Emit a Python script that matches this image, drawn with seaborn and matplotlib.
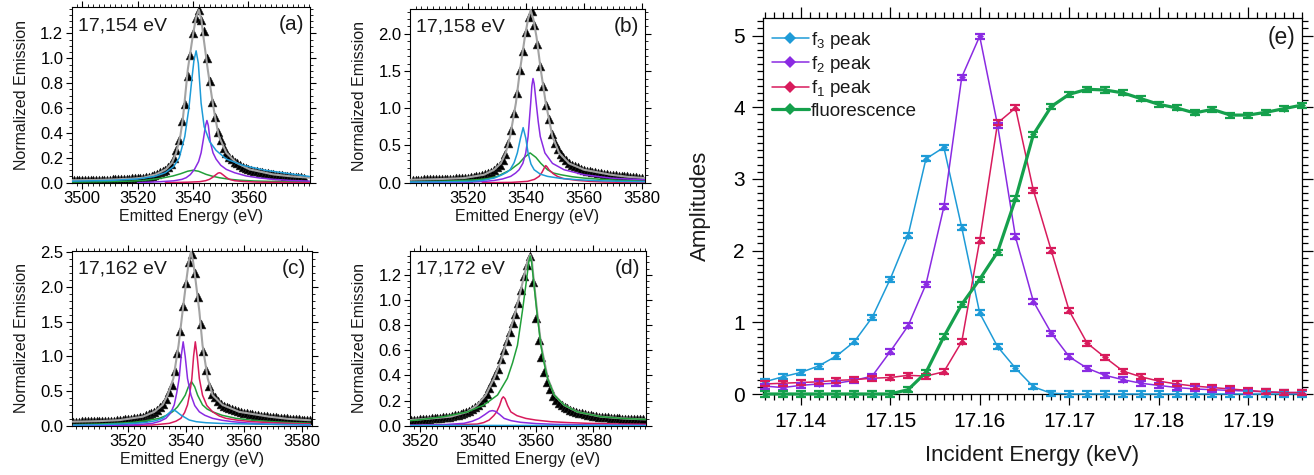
import numpy as np
import matplotlib
matplotlib.use('Agg')
import matplotlib.pyplot as plt
import seaborn as sns
from matplotlib.ticker import MultipleLocator, FormatStrFormatter, FixedLocator

# ------------------------------------------------------------------ data
# panel (a) 17,154 eV
a_tri_x = list(range(3497, 3581))
a_tri_y = [0.02, 0.02, 0.021, 0.021, 0.021, 0.022, 0.022, 0.022, 0.023, 0.023, 0.024, 0.024, 0.025, 0.025,
           0.026, 0.027, 0.028, 0.029, 0.03, 0.031, 0.033, 0.034, 0.036, 0.038,
           0.039, 0.04, 0.043, 0.047, 0.052, 0.06, 0.072, 0.082, 0.092, 0.105,
           0.125, 0.15, 0.2, 0.26, 0.34, 0.5, 0.63, 0.86, 1.03, 1.2,
           1.32, 1.39, 1.31, 1.22, 1.0, 0.82, 0.65, 0.53, 0.41, 0.34,
           0.28, 0.24, 0.21, 0.19, 0.17, 0.155, 0.14, 0.13, 0.12, 0.11,
           0.103, 0.097, 0.092, 0.087, 0.082, 0.078, 0.074, 0.07, 0.066, 0.063,
           0.06, 0.058, 0.055, 0.053, 0.051, 0.049, 0.047, 0.045, 0.043, 0.041]
a_fit_x = [3496, 3505, 3512, 3518, 3522, 3526.6, 3530.2, 3532.4, 3533.9, 3535.4, 3536.3, 3536.9, 3538.1, 3539.9,
           3541, 3542.1, 3543, 3543.7, 3545.3, 3547.1, 3548.1, 3549.3, 3552, 3555.6, 3560.4, 3568.8, 3575, 3582]
a_fit_y = [0.02, 0.022, 0.027, 0.033, 0.04, 0.067, 0.107, 0.16, 0.24, 0.375, 0.51, 0.64, 0.91, 1.18,
           1.32, 1.39, 1.31, 1.18, 0.91, 0.64, 0.51, 0.375, 0.24, 0.16, 0.107, 0.067, 0.052, 0.04]
a_f3_x = [3496, 3510, 3520, 3526, 3530, 3533, 3535, 3537, 3538.5, 3539.5, 3540.3, 3541.1, 3541.9, 3542.9,
          3544, 3546, 3548.3, 3552, 3558, 3566, 3582]
a_f3_y = [0.012, 0.018, 0.03, 0.05, 0.08, 0.13, 0.2, 0.37, 0.6, 0.82, 0.98, 1.06, 0.96, 0.64,
          0.45, 0.33, 0.26, 0.19, 0.14, 0.1, 0.05]
a_f2_x = [3520, 3528, 3533, 3536, 3537.5, 3539, 3540.5, 3542, 3542.9, 3543.8, 3544.5, 3545, 3545.5, 3546.2,
          3547.2, 3548.3, 3550, 3552, 3555, 3559.2, 3564, 3569, 3575, 3582]
a_f2_y = [0.0, 0.008, 0.015, 0.027, 0.04, 0.065, 0.107, 0.17, 0.24, 0.36, 0.46, 0.5, 0.46, 0.33,
          0.24, 0.19, 0.14, 0.107, 0.08, 0.054, 0.038, 0.027, 0.018, 0.013]
a_f1_x = [3530, 3538, 3542.3, 3544.5, 3545.9, 3547, 3548, 3549, 3549.5, 3550, 3551, 3552, 3553.1, 3555,
          3558, 3563, 3570, 3582]
a_f1_y = [0.0, 0.004, 0.008, 0.016, 0.027, 0.042, 0.06, 0.077, 0.08, 0.077, 0.06, 0.042, 0.027, 0.016,
          0.01, 0.005, 0.003, 0.001]
a_fl_x = [3496, 3505, 3512, 3518, 3522, 3525.4, 3529, 3532.7, 3535.5, 3538, 3539.9, 3542, 3544.7, 3547,
          3549.5, 3553, 3556.8, 3562, 3569, 3576, 3582]
a_fl_y = [0.005, 0.007, 0.01, 0.013, 0.018, 0.027, 0.038, 0.054, 0.072, 0.092, 0.1, 0.092, 0.067, 0.052,
          0.04, 0.028, 0.02, 0.014, 0.01, 0.007, 0.006]

# panel (b) 17,158 eV
b_tri_x = list(range(3501, 3581))
b_tri_y = [0.04, 0.041, 0.041, 0.042, 0.043, 0.044, 0.045, 0.046, 0.047, 0.048,
           0.049, 0.05, 0.052, 0.054, 0.056, 0.058, 0.06, 0.062, 0.064, 0.067,
           0.072, 0.078, 0.085, 0.093, 0.102, 0.115, 0.13, 0.15, 0.175, 0.21,
           0.24, 0.31, 0.39, 0.53, 0.71, 0.94, 1.2, 1.51, 1.77, 2.03,
           2.22, 2.31, 2.12, 1.87, 1.57, 1.3, 1.05, 0.85, 0.66, 0.54,
           0.45, 0.38, 0.34, 0.3, 0.26, 0.24, 0.22, 0.205, 0.19, 0.176,
           0.163, 0.153, 0.145, 0.138, 0.131, 0.125, 0.119, 0.114, 0.109, 0.105,
           0.1, 0.096, 0.092, 0.088, 0.084, 0.08, 0.076, 0.072, 0.068, 0.064]
b_fit_x = [3500.3, 3510, 3518.7, 3525.6, 3529.1, 3531.4, 3533.1, 3534.6, 3536.6, 3538.0, 3539.7, 3540.8,
           3541.7, 3542.6, 3543.7, 3545.2, 3546.9, 3549.2, 3551.5, 3554.9, 3560.1, 3569.3, 3575, 3581]
b_fit_y = [0.04, 0.048, 0.062, 0.107, 0.174, 0.26, 0.4, 0.62, 1.07, 1.51, 1.96, 2.2,
           2.32, 2.2, 1.96, 1.51, 1.07, 0.62, 0.4, 0.26, 0.174, 0.107, 0.08, 0.062]
b_f3_x = [3500, 3510, 3516, 3521, 3525, 3529.1, 3531.5, 3533.5, 3534.6, 3536, 3537.1, 3538.2, 3539.1, 3540,
          3540.8, 3541.8, 3542.9, 3545, 3547.5, 3552, 3557.8, 3565, 3572.8, 3581]
b_f3_y = [0.008, 0.011, 0.014, 0.018, 0.03, 0.062, 0.1, 0.14, 0.174, 0.27, 0.4, 0.6, 0.74, 0.6,
          0.4, 0.25, 0.174, 0.115, 0.085, 0.058, 0.04, 0.027, 0.018, 0.013]
b_f2_x = [3500, 3510, 3521, 3526, 3529.1, 3532, 3534.8, 3536.5, 3537.7, 3539, 3540, 3540.8, 3541.7, 3542.1,
          3542.5, 3542.9, 3543.6, 3544.3, 3545, 3546.6, 3549.2, 3553.2, 3560.1, 3569.3, 3575, 3581]
b_f2_y = [0.002, 0.004, 0.009, 0.018, 0.03, 0.05, 0.085, 0.13, 0.174, 0.26, 0.4, 0.62, 1.07, 1.3,
          1.4, 1.33, 1.07, 0.82, 0.62, 0.4, 0.26, 0.174, 0.107, 0.062, 0.05, 0.04]
b_f1_x = [3525, 3535, 3540.6, 3543, 3544.6, 3545.6, 3546.4, 3546.9, 3547.4, 3548.0, 3549.5, 3550.9, 3553,
          3557.8, 3562, 3567, 3575, 3581]
b_f1_y = [0.0, 0.004, 0.018, 0.045, 0.085, 0.14, 0.2, 0.23, 0.21, 0.174, 0.12, 0.085, 0.055,
          0.031, 0.018, 0.009, 0.004, 0.002]
b_fl_x = [3500, 3509.5, 3516, 3523.3, 3527, 3530.2, 3532.5, 3534.8, 3536.3, 3537.7, 3539.5, 3541.5, 3543.5,
          3545.2, 3547.5, 3549.5, 3552.1, 3556, 3560.1, 3566, 3572.8, 3581]
b_fl_y = [0.012, 0.018, 0.026, 0.04, 0.055, 0.085, 0.13, 0.174, 0.22, 0.26, 0.34, 0.4, 0.34,
          0.26, 0.174, 0.13, 0.107, 0.08, 0.062, 0.045, 0.031, 0.022]

# panel (c) 17,162 eV
c_tri_x = list(range(3501, 3584))
c_tri_y = [0.058, 0.059, 0.06, 0.061, 0.062, 0.063, 0.064, 0.065, 0.066, 0.067,
           0.068, 0.07, 0.071, 0.073, 0.075, 0.078, 0.081, 0.086, 0.091, 0.097,
           0.102, 0.108, 0.115, 0.122, 0.13, 0.148, 0.165, 0.18, 0.2, 0.23,
           0.27, 0.31, 0.39, 0.49, 0.58, 0.79, 1.05, 1.37, 1.72, 2.06,
           2.36, 2.48, 2.2, 1.86, 1.47, 1.08, 0.81, 0.57, 0.46, 0.41,
           0.36, 0.32, 0.29, 0.27, 0.25, 0.235, 0.22, 0.205, 0.195, 0.186,
           0.178, 0.17, 0.163, 0.156, 0.15, 0.144, 0.139, 0.134, 0.13, 0.126,
           0.122, 0.118, 0.114, 0.11, 0.106, 0.102, 0.098, 0.094, 0.09, 0.086,
           0.083, 0.08, 0.078]
c_fit_x = [3500.7, 3510, 3516.9, 3525.0, 3529.0, 3531.9, 3533.6, 3535.6, 3537.4, 3538.8, 3540.2, 3541.0,
           3541.7, 3542.4, 3543.2, 3544.6, 3545.7, 3547.5, 3549.2, 3552.6, 3558.4, 3568.8, 3575, 3583]
c_fit_y = [0.058, 0.066, 0.08, 0.13, 0.2, 0.3, 0.44, 0.68, 1.16, 1.65, 2.13, 2.38,
           2.51, 2.38, 2.13, 1.65, 1.16, 0.68, 0.44, 0.3, 0.2, 0.13, 0.1, 0.078]
c_f3_x = [3501, 3510, 3516.9, 3522, 3526.1, 3529.5, 3531.9, 3533.5, 3534.8, 3535.6, 3536.5, 3538.2, 3541.1,
          3543.5, 3546.9, 3552, 3561.9, 3571, 3583]
c_f3_y = [0.008, 0.014, 0.024, 0.034, 0.048, 0.072, 0.106, 0.16, 0.21, 0.226, 0.21, 0.154, 0.082,
          0.058, 0.043, 0.033, 0.024, 0.018, 0.013]
c_f2_x = [3501, 3512, 3521.5, 3528.4, 3531, 3533, 3534.6, 3535.9, 3536.8, 3537.6, 3538.3, 3539, 3539.7,
          3540.5, 3541.7, 3543, 3544.6, 3546.5, 3549.2, 3552.5, 3556.1, 3561, 3567.6, 3575, 3583]
c_f2_y = [0.002, 0.005, 0.01, 0.034, 0.065, 0.106, 0.18, 0.3, 0.48, 0.68, 1.0, 1.21, 1.0,
          0.68, 0.44, 0.29, 0.2, 0.15, 0.106, 0.078, 0.058, 0.04, 0.024, 0.015, 0.01]
c_f1_x = [3501, 3515, 3528.4, 3534.2, 3536.5, 3538.2, 3539.5, 3540.5, 3541.3, 3542, 3542.6, 3543.2, 3543.9,
          3544.6, 3545.7, 3547.2, 3549.2, 3551.5, 3553.8, 3558, 3563, 3570, 3579.2, 3583]
c_f1_y = [0.001, 0.003, 0.01, 0.034, 0.065, 0.106, 0.19, 0.3, 0.47, 0.68, 1.0, 1.21, 0.98,
          0.68, 0.44, 0.29, 0.2, 0.14, 0.106, 0.078, 0.058, 0.042, 0.029, 0.026]
c_fl_x = [3501, 3510, 3516, 3521.5, 3526, 3530.7, 3533, 3535.3, 3537, 3538.5, 3539.7, 3540.8, 3541.9, 3543,
          3544, 3545.7, 3547.3, 3549.2, 3552.5, 3557.3, 3563, 3569.9, 3576, 3583]
c_fl_y = [0.015, 0.024, 0.034, 0.048, 0.07, 0.106, 0.145, 0.2, 0.27, 0.36, 0.44, 0.56, 0.635, 0.56,
          0.44, 0.3, 0.24, 0.2, 0.15, 0.106, 0.078, 0.058, 0.045, 0.036]

# panel (d) 17,172 eV
d_tri_x = list(range(3517, 3598))
d_tri_y = [0.045, 0.047, 0.048, 0.05, 0.052, 0.054, 0.056, 0.058, 0.06, 0.062,
           0.064, 0.066, 0.068, 0.071, 0.076, 0.082, 0.088, 0.094, 0.1, 0.107,
           0.12, 0.135, 0.15, 0.165, 0.19, 0.217, 0.25, 0.3, 0.35, 0.4,
           0.455, 0.53, 0.6, 0.67, 0.745, 0.82, 0.89, 0.98, 1.08, 1.19,
           1.28, 1.35, 1.14, 0.86, 0.68, 0.55, 0.43, 0.35, 0.29, 0.24,
           0.205, 0.18, 0.162, 0.148, 0.137, 0.127, 0.117, 0.11, 0.104, 0.098,
           0.093, 0.088, 0.084, 0.08, 0.076, 0.073, 0.07, 0.068, 0.066, 0.064,
           0.062, 0.06, 0.058, 0.057, 0.056, 0.055, 0.054, 0.053, 0.052, 0.051, 0.05]
d_fit_x = [3516.5, 3521.4, 3530.6, 3536.4, 3539.8, 3542.7, 3545.6, 3547.9, 3549.6, 3551.4, 3553.1, 3555.8,
           3557.2, 3558.1, 3558.7, 3559.3, 3560.5, 3561.9, 3564.2, 3566.5, 3569.8, 3574.4, 3582.5, 3590, 3598]
d_fit_y = [0.045, 0.053, 0.072, 0.11, 0.165, 0.244, 0.377, 0.51, 0.64, 0.775, 0.91, 1.17,
           1.31, 1.36, 1.31, 1.17, 0.91, 0.64, 0.377, 0.244, 0.165, 0.11, 0.072, 0.058, 0.05]
d_f3_x = [3516.5, 3540, 3560, 3580, 3598]
d_f3_y = [0.001, 0.002, 0.002, 0.002, 0.001]
d_f2_x = [3516.5, 3528, 3535.2, 3538, 3540.4, 3542.5, 3544, 3545, 3546, 3547.5, 3549.1, 3551.5, 3554.8,
          3560, 3566.4, 3580, 3598]
d_f2_y = [0.003, 0.008, 0.019, 0.035, 0.058, 0.09, 0.115, 0.12, 0.115, 0.09, 0.058, 0.04, 0.027,
          0.017, 0.011, 0.006, 0.003]
d_f1_x = [3516.5, 3530, 3539.8, 3542, 3543.9, 3545.5, 3546.5, 3547.5, 3548.3, 3548.8, 3549.4, 3550.3,
          3551.4, 3553.5, 3556.6, 3560, 3565.2, 3571, 3577.9, 3587, 3598]
d_f1_y = [0.002, 0.006, 0.013, 0.025, 0.045, 0.08, 0.11, 0.16, 0.215, 0.23, 0.215, 0.16,
          0.11, 0.08, 0.058, 0.045, 0.032, 0.025, 0.019, 0.014, 0.011]
d_fl_x = [3516.5, 3519, 3528.3, 3536.4, 3542.1, 3546.8, 3550.2, 3552, 3553.7, 3555.4, 3556.9, 3557.6,
          3558.1, 3558.6, 3559.2, 3560.4, 3561.8, 3562.9, 3564.1, 3566.4, 3569.8, 3574.4, 3582.5, 3590, 3598]
d_fl_y = [0.04, 0.045, 0.072, 0.11, 0.165, 0.244, 0.377, 0.5, 0.64, 0.91, 1.17, 1.3,
          1.35, 1.3, 1.17, 0.91, 0.64, 0.5, 0.377, 0.244, 0.165, 0.11, 0.072, 0.058, 0.05]

# panel (e) amplitudes vs incident energy (keV)
inc_energy = [17.136, 17.138, 17.140, 17.142, 17.144, 17.146, 17.148, 17.150, 17.152, 17.154, 17.156,
              17.158, 17.160, 17.162, 17.164, 17.166, 17.168, 17.170, 17.172, 17.174, 17.176, 17.178,
              17.180, 17.182, 17.184, 17.186, 17.188, 17.190, 17.192, 17.194, 17.196]
amp_f3 = [0.17, 0.24, 0.30, 0.39, 0.53, 0.73, 1.07, 1.60, 2.21, 3.28, 3.44, 2.32, 1.13, 0.66, 0.36, 0.10,
          0.01, 0.0, 0.0, 0.0, 0.0, 0.0, 0.0, 0.0, 0.0, 0.0, 0.0, 0.0, 0.0, 0.0, 0.0]
amp_f2 = [0.11, 0.09, 0.12, 0.14, 0.15, 0.19, 0.25, 0.59, 0.95, 1.53, 2.61, 4.42, 4.99, 3.75, 2.19, 1.29,
          0.85, 0.52, 0.36, 0.26, 0.20, 0.15, 0.12, 0.09, 0.07, 0.06, 0.05, 0.04, 0.03, 0.02, 0.02]
amp_f1 = [0.14, 0.15, 0.16, 0.17, 0.19, 0.20, 0.22, 0.23, 0.26, 0.25, 0.31, 0.73, 2.14, 3.78, 3.99, 2.84,
          2.00, 1.16, 0.71, 0.51, 0.32, 0.24, 0.18, 0.14, 0.11, 0.09, 0.07, 0.05, 0.03, 0.02, 0.02]
amp_fl = [0.0, 0.0, 0.0, 0.0, 0.0, 0.0, 0.0, 0.0, 0.06, 0.30, 0.80, 1.25, 1.60, 1.98, 2.72, 3.62,
          4.01, 4.18, 4.25, 4.24, 4.20, 4.12, 4.04, 3.99, 3.92, 3.97, 3.89, 3.89, 3.93, 3.98, 4.03]
amp_err = 0.035

panel_energies = ['17,154 eV', '17,158 eV', '17,162 eV', '17,172 eV']
panel_letters = ['(a)', '(b)', '(c)', '(d)']
legend_labels = [r'f$_3$ peak', r'f$_2$ peak', r'f$_1$ peak', 'fluorescence']

# ------------------------------------------------------------------ style
sns.set_theme(style='ticks')
plt.rcParams['font.family'] = ['Liberation Sans', 'DejaVu Sans']
plt.rcParams['mathtext.fontset'] = 'custom'
plt.rcParams['mathtext.rm'] = 'Liberation Sans'
plt.rcParams['mathtext.it'] = 'Liberation Sans:italic'
plt.rcParams['axes.edgecolor'] = 'black'
plt.rcParams['xtick.color'] = 'black'
plt.rcParams['ytick.color'] = 'black'
plt.rcParams['text.color'] = '#1a1a1a'
plt.rcParams['axes.labelcolor'] = '#1a1a1a'

C_F3 = '#1e9bd7'
C_F2 = '#8a2be2'
C_F1 = '#d81b5c'
C_FL = '#15a04c'
C_FL_SPEC = '#22a03a'
C_FIT = '#a3a3a3'

fig = plt.figure(figsize=(13.14, 4.75), dpi=100)
W, H = 1314.0, 475.0


def rect(l, t, r, b):
    return [l / W, 1 - b / H, (r - l) / W, (b - t) / H]


ax_a = fig.add_axes(rect(71.7, 7.3, 310, 182.7))
ax_b = fig.add_axes(rect(410, 9.3, 645, 182.7))
ax_c = fig.add_axes(rect(71.7, 251, 311.7, 425.7))
ax_d = fig.add_axes(rect(410, 251, 646, 425.7))
ax_e = fig.add_axes(rect(763, 18.3, 1302, 394))


def spectrum(ax, tri_x, tri_y, fit_x, fit_y, comps, xlim, ylim, xticks, yticks, ymin, elabel, letter):
    sns.scatterplot(x=tri_x, y=tri_y, marker='^', s=40, color='black', edgecolor='#2a2a2a',
                    linewidth=0.4, ax=ax, zorder=2, legend=False)
    sns.lineplot(x=fit_x, y=fit_y, color=C_FIT, lw=1.5, ax=ax, zorder=3, estimator=None, sort=False,
                 legend=False)
    for cx, cy, col in comps:
        sns.lineplot(x=cx, y=cy, color=col, lw=1.1, ax=ax, zorder=4, estimator=None, sort=False,
                     legend=False)
    ax.set_xlim(*xlim)
    ax.set_ylim(*ylim)
    ax.set_xticks(xticks)
    ax.xaxis.set_minor_locator(MultipleLocator(2))
    ax.yaxis.set_major_locator(FixedLocator(yticks))
    ax.yaxis.set_minor_locator(MultipleLocator(ymin))
    ax.yaxis.set_major_formatter(FormatStrFormatter('%.1f'))
    ax.tick_params(which='both', direction='out', top=True, right=True, labeltop=False,
                   labelright=False, width=0.8)
    ax.tick_params(which='major', length=4, labelsize=12, pad=2)
    ax.tick_params(which='minor', length=2.5, width=0.6)
    for sp in ax.spines.values():
        sp.set_linewidth(0.8)
        sp.set_color('black')
    ax.set_xlabel('Emitted Energy (eV)', fontsize=11.5, labelpad=2)
    ax.set_ylabel('Normalized Emission', fontsize=11.5, labelpad=8)
    ax.text(0.025, 0.87, elabel, transform=ax.transAxes, fontsize=14, ha='left', va='baseline')
    ax.text(0.975, 0.87, letter, transform=ax.transAxes, fontsize=15, ha='right', va='baseline')


spectrum(ax_a, a_tri_x, a_tri_y, a_fit_x, a_fit_y,
         [(a_fl_x, a_fl_y, C_FL_SPEC), (a_f1_x, a_f1_y, C_F1), (a_f2_x, a_f2_y, C_F2), (a_f3_x, a_f3_y, C_F3)],
         (3496.2, 3582.2), (0, 1.41), [3500, 3520, 3540, 3560], [0, 0.2, 0.4, 0.6, 0.8, 1.0, 1.2], 0.05,
         panel_energies[0], panel_letters[0])
spectrum(ax_b, b_tri_x, b_tri_y, b_fit_x, b_fit_y,
         [(b_fl_x, b_fl_y, C_FL_SPEC), (b_f1_x, b_f1_y, C_F1), (b_f2_x, b_f2_y, C_F2), (b_f3_x, b_f3_y, C_F3)],
         (3500.1, 3581.1), (0, 2.33), [3520, 3540, 3560, 3580], [0, 0.5, 1.0, 1.5, 2.0], 0.1,
         panel_energies[1], panel_letters[1])
spectrum(ax_c, c_tri_x, c_tri_y, c_fit_x, c_fit_y,
         [(c_fl_x, c_fl_y, C_FL_SPEC), (c_f1_x, c_f1_y, C_F1), (c_f2_x, c_f2_y, C_F2), (c_f3_x, c_f3_y, C_F3)],
         (3500.4, 3583.5), (0, 2.52), [3520, 3540, 3560, 3580], [0, 0.5, 1.0, 1.5, 2.0, 2.5], 0.1,
         panel_energies[2], panel_letters[2])
spectrum(ax_d, d_tri_x, d_tri_y, d_fit_x, d_fit_y,
         [(d_fl_x, d_fl_y, C_FL_SPEC), (d_f1_x, d_f1_y, C_F1), (d_f2_x, d_f2_y, C_F2), (d_f3_x, d_f3_y, C_F3)],
         (3516.5, 3598.2), (0, 1.39), [3520, 3540, 3560, 3580], [0, 0.2, 0.4, 0.6, 0.8, 1.0, 1.2], 0.05,
         panel_energies[3], panel_letters[3])

# ------------------------------------------------------------------ panel (e)
series = [(amp_f3, C_F3, 1.1, legend_labels[0]), (amp_f2, C_F2, 1.1, legend_labels[1]),
          (amp_f1, C_F1, 1.1, legend_labels[2]), (amp_fl, C_FL, 2.3, legend_labels[3])]
for vals, col, lw, lab in series:
    sns.lineplot(x=inc_energy, y=vals, color=col, lw=lw, marker='D', markersize=3.5,
                 markeredgewidth=0, ax=ax_e, estimator=None, sort=False, label=lab, clip_on=False,
                 zorder=3)
    ax_e.errorbar(inc_energy, vals, yerr=amp_err, fmt='none', ecolor=col, elinewidth=1.0,
                  capsize=3.5, capthick=1.6, clip_on=False, zorder=4)

ax_e.set_xlim(17.1358, 17.196)
ax_e.set_ylim(0, 5.24)
ax_e.set_xticks([17.14, 17.15, 17.16, 17.17, 17.18, 17.19])
ax_e.xaxis.set_major_formatter(FormatStrFormatter('%.2f'))
ax_e.xaxis.set_minor_locator(MultipleLocator(0.001))
ax_e.yaxis.set_major_locator(MultipleLocator(1))
ax_e.yaxis.set_minor_locator(MultipleLocator(0.1))
ax_e.tick_params(which='both', direction='out', top=True, right=True, labeltop=False,
                 labelright=False, width=0.9)
ax_e.tick_params(which='major', length=8, labelsize=15, pad=5)
ax_e.tick_params(which='minor', length=4.3)
for sp in ax_e.spines.values():
    sp.set_linewidth(0.9)
    sp.set_color('black')
ax_e.set_xlabel('Incident Energy (keV)', fontsize=16, labelpad=10)
ax_e.set_ylabel('Amplitudes', fontsize=16, labelpad=16)
ax_e.text(0.962, 0.948, '(e)', transform=ax_e.transAxes, fontsize=16.5, ha='center', va='center')
leg = ax_e.legend(loc='upper left', bbox_to_anchor=(-0.005, 1.0), frameon=False, fontsize=13.5,
                  handlelength=2.0, handletextpad=0.1, labelspacing=0.18, borderaxespad=0.2,
                  markerscale=1.8)

fig.savefig('out.png', dpi=100)
